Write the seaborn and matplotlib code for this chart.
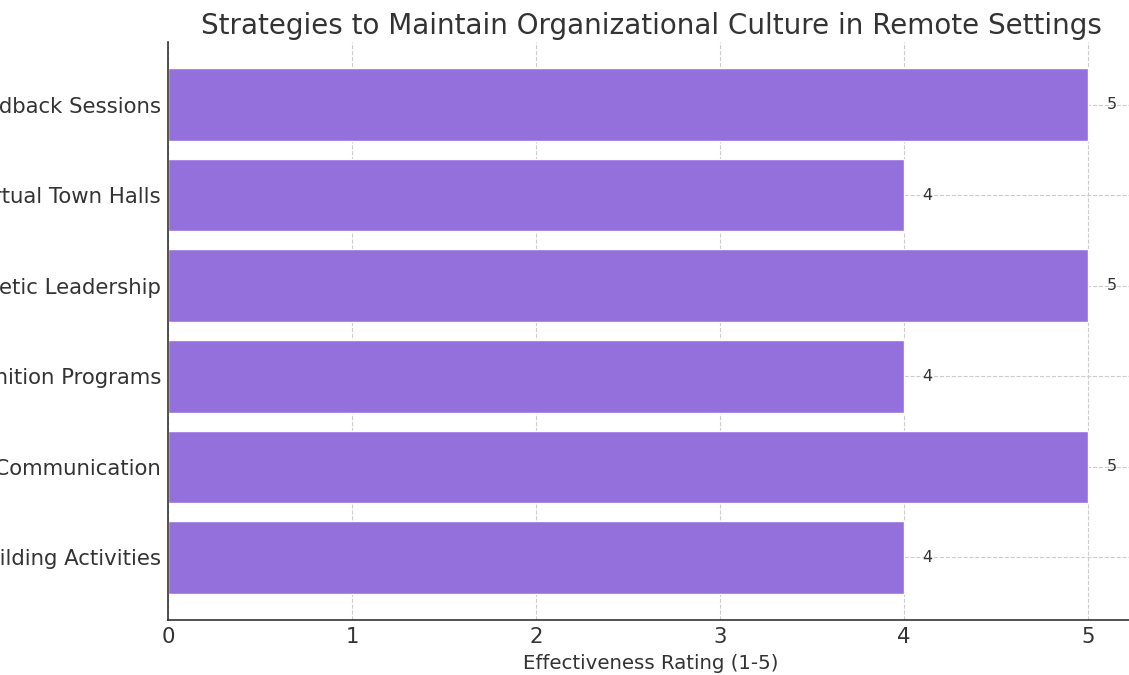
import matplotlib
matplotlib.use("Agg")
import matplotlib.pyplot as plt
import seaborn as sns
import pandas as pd

strategies = [
    "Regular Feedback Sessions",
    "Virtual Town Halls",
    "Empathetic Leadership",
    "Recognition Programs",
    "Open Communication",
    "Team Building Activities",
]
ratings = [5, 4, 5, 4, 5, 4]

df = pd.DataFrame({"Strategy": strategies, "Rating": ratings})

sns.set_style("white")
plt.rcParams["font.family"] = ["DejaVu Sans"]
text_color = "#333333"

fig = plt.figure(figsize=(11.29, 6.75), dpi=100)
ax = fig.add_axes([168 / 1129, 55 / 675, 966 / 1129, 578 / 675])

sns.barplot(data=df, x="Rating", y="Strategy", orient="h", color="#9370DB",
            saturation=1, width=0.8, ax=ax)

for i, v in enumerate(ratings):
    ax.text(v + 0.1, i, str(v), va="center", ha="left", fontsize=11.5, color=text_color)

ax.set_xlim(0, 5.25)
ax.set_ylim(len(strategies) - 1 + 0.69, -0.69)
ax.set_xticks([0, 1, 2, 3, 4, 5])
ax.set_xlabel("Effectiveness Rating (1-5)", fontsize=14.2, color=text_color, labelpad=5)
ax.set_ylabel("")
ax.set_title("Strategies to Maintain Organizational Culture in Remote Settings",
             fontsize=20, color=text_color, pad=6)
ax.tick_params(axis="both", labelsize=15.3, colors=text_color, length=0, pad=5)
ax.grid(True, linestyle="--", color="#cccccc", linewidth=0.8)
ax.set_axisbelow(True)
for s in ["top", "right"]:
    ax.spines[s].set_visible(False)
for s in ["left", "bottom"]:
    ax.spines[s].set_color(text_color)
    ax.spines[s].set_linewidth(1.2)

fig.savefig("out.png", dpi=100)
